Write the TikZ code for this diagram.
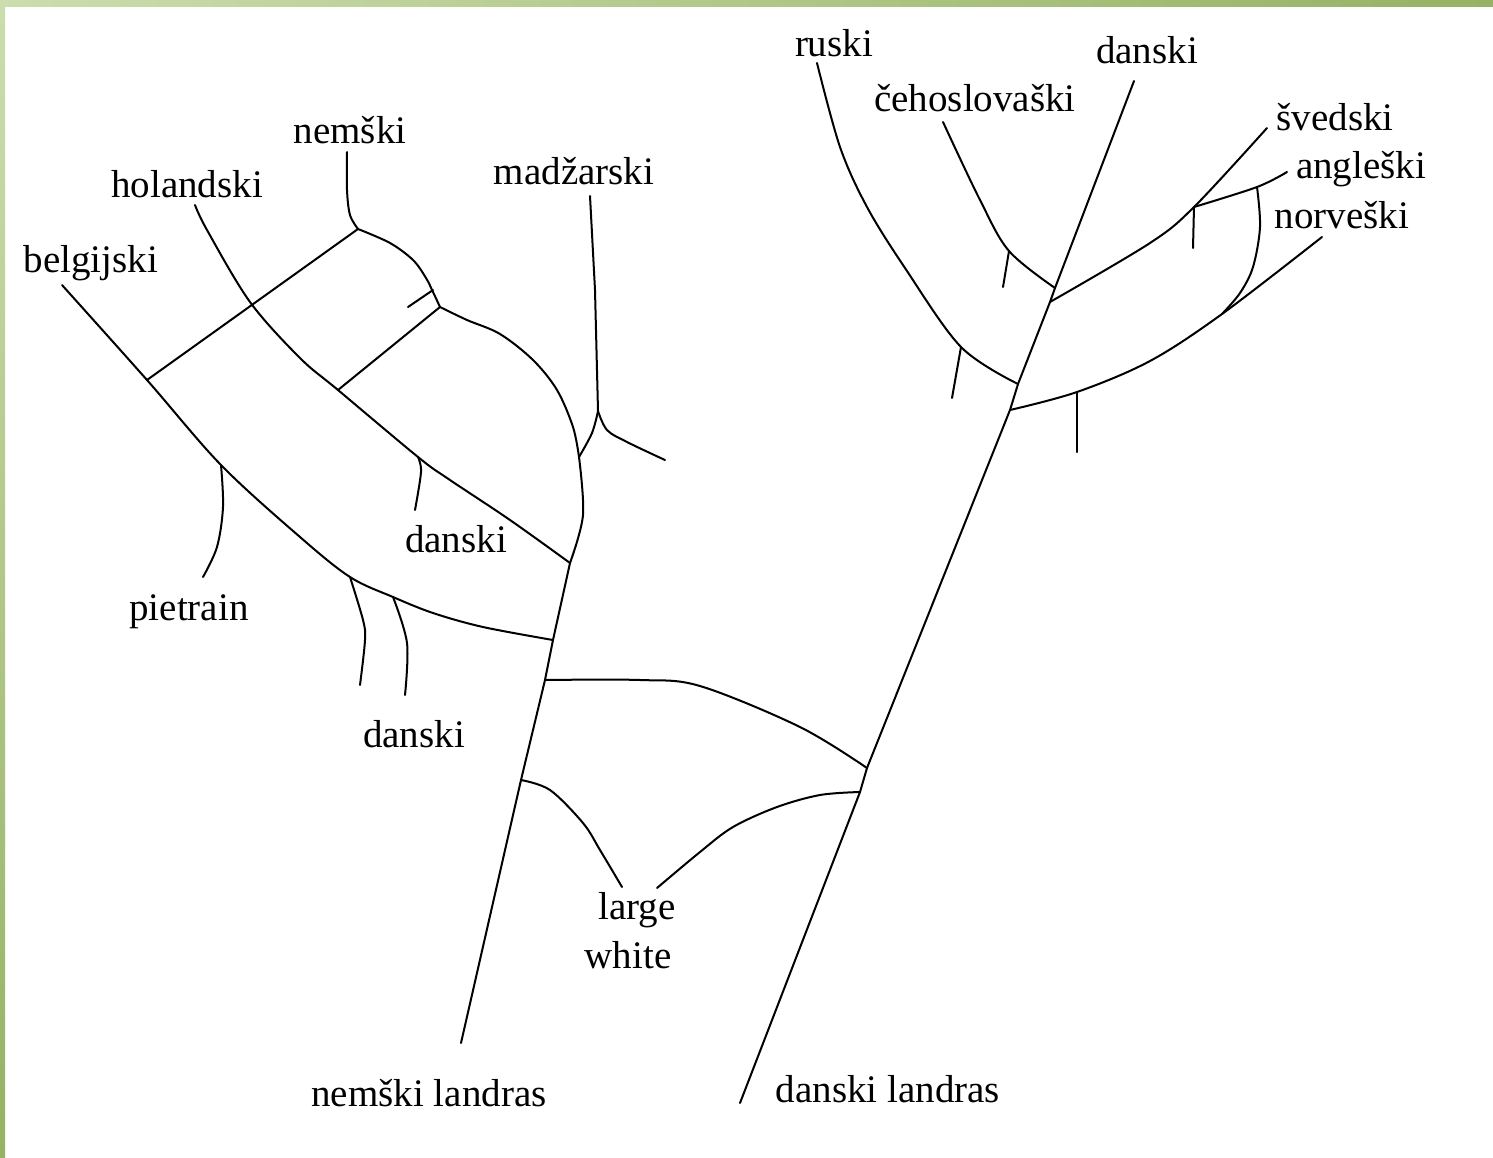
\documentclass[tikz,border=0pt]{standalone}
\usepackage{fontspec}
\newfontfamily\lblfont{Liberation Serif}
\begin{document}
\begin{tikzpicture}[x=1pt,y=-1pt,
  tree/.style={line width=2pt, black, line join=round, line cap=round},
  lbl/.style={font=\lblfont\fontsize{39}{41}\selectfont, inner sep=0pt, anchor=base},
  sm/.style={smooth, tension=0.55}]
\useasboundingbox (0,0) rectangle (1493,1157);
\fill[white] (0,0) rectangle (1493,1157);
\definecolor{gLight}{RGB}{204,221,174}
\definecolor{gDark}{RGB}{150,178,100}
\shade[left color=gLight, right color=gDark] (0,0) rectangle (1493,6);
\shade[top color=gLight, bottom color=gDark] (0,0) rectangle (5,1157);

% ---------- labels ----------
\node[lbl] (ruski)   at (834,56)  {ruski};
\node[lbl] (danR)    at (1147,63) {danski};
\node[lbl] (ceh)     at (975,111) {čehoslovaški};
\node[lbl] (sved)    at (1335,130) {švedski};
\node[lbl] (angl)    at (1361,178) {angleški};
\node[lbl] (norv)    at (1342,228) {norveški};
\node[lbl] (nem)     at (350,143) {nemški};
\node[lbl] (hol)     at (187,197) {holandski};
\node[lbl] (mad)     at (574,184) {madžarski};
\node[lbl] (bel)     at (91,272)  {belgijski};
\node[lbl] (danM)    at (456,552) {danski};
\node[lbl] (piet)    at (189,620) {pietrain};
\node[lbl] (danL)    at (414,747) {danski};
\node[lbl] (large)   at (637,919) {large};
\node[lbl] (white)   at (628,968) {white};
\node[lbl] (nemland) at (429,1106) {nemški landras};
\node[lbl] (danland) at (888,1102) {danski landras};

% ---------- junctions, left tree ----------
\coordinate (Lbot) at (461,1043);
\coordinate (Jlw)  at (521,780);
\coordinate (Jlm)  at (545,680);
\coordinate (Jbel) at (553,640);
\coordinate (Jhol) at (570,563);
\coordinate (Jmad) at (579,457);
\coordinate (Jm2)  at (598,411);
\coordinate (Jn2)  at (440,307);
\coordinate (Jn1)  at (358,229);
\coordinate (Jh1)  at (338,390);
\coordinate (Jh2)  at (418,457);
\coordinate (Jb1)  at (147,380);
\coordinate (Jb2)  at (221,465);
\coordinate (Jb3)  at (350,577);
\coordinate (Jb4)  at (393,597);
\coordinate (Jtk)  at (433,290);
% ---------- junctions, right tree ----------
\coordinate (Rbot) at (740,1103);
\coordinate (Jr2)  at (860,792);
\coordinate (Jr1)  at (867,768);
\coordinate (Jno)  at (1010,410);
\coordinate (Jru)  at (1018,384);
\coordinate (Jsv)  at (1050,302);
\coordinate (Jce)  at (1055,288);
\coordinate (Rtop) at (1134,81);
\coordinate (Jrt)  at (961,347);
\coordinate (Jct)  at (1009,251);
\coordinate (Jan)  at (1194,207);
\coordinate (Jac)  at (1257,187);
\coordinate (Jnt)  at (1077,392);
\coordinate (Jnc)  at (1222,314);

% ---------- left tree ----------
\draw[tree] (Lbot) -- (Jlw) -- (Jlm) -- (Jbel) -- (Jhol);
\draw[tree] plot[sm] coordinates {(Jhol) (583,515) (Jmad)};
\draw[tree] plot[sm] coordinates {(Jmad) (573,427) (557,390) (533,360) (500,334) (467,320) (Jn2)};
\draw[tree] plot[sm] coordinates {(Jn2) (433,292) (426,278) (413,260) (390,243) (Jn1)};
\draw[tree] plot[sm] coordinates {(Jn1) (350,215) (347,190) (347,152)};
\draw[tree] plot[sm] coordinates {(Jmad) (592,433) (Jm2)};
\draw[tree] (Jm2) -- (595,290) -- (590,196);
\draw[tree] plot[sm] coordinates {(Jm2) (607,430) (627,442) (665,460)};
% holandski
\draw[tree] plot[sm] coordinates {(195,205) (207,230) (250,302) (300,358) (Jh1) (Jh2) (447,478) (510,520) (Jhol)};
% cross links
\draw[tree] (Jn2) -- (Jh1);
\draw[tree] (Jn1) -- (Jb1);
\draw[tree] (Jtk) -- (408,307);
% belgijski
\draw[tree] plot[sm] coordinates {(62,285) (Jb1) (Jb2) (300,537) (Jb3) (Jb4) (433,613) (483,627) (Jbel)};
% ticks
\draw[tree] plot[sm] coordinates {(Jb2) (223,507) (217,547) (203,577)};
\draw[tree] plot[sm] coordinates {(Jb3) (363,620) (365,640) (360,685)};
\draw[tree] plot[sm] coordinates {(Jb4) (407,643) (405,695)};
\draw[tree] plot[sm] coordinates {(Jh2) (421,472) (415,510)};
% large white links
\draw[tree] plot[sm] coordinates {(Jlm) (640,680) (700,686) (800,727) (Jr1)};
\draw[tree] plot[sm] coordinates {(Jlw) (550,790) (583,823) (600,850) (622,887)};
\draw[tree] plot[sm] coordinates {(Jr2) (820,795) (777,807) (733,827) (700,852) (657,888)};

% ---------- right tree ----------
\draw[tree] (Rbot) -- (Jr2) -- (Jr1) -- (Jno) -- (Jru) -- (Jsv) -- (Jce) -- (Rtop);
\draw[tree] plot[sm] coordinates {(817,63) (840,147) (867,207) (905,268) (Jrt) (Jru)};
\draw[tree] (Jrt) -- (952,398);
\draw[tree] plot[sm] coordinates {(943,122) (980,200) (Jct) (Jce)};
\draw[tree] (Jct) -- (1003,287);
\draw[tree] plot[sm] coordinates {(Jsv) (1150,243) (Jan) (1267,128)};
\draw[tree] plot[sm] coordinates {(Jan) (Jac) (1287,172)};
\draw[tree] (Jan) -- (1193,248);
\draw[tree] plot[sm] coordinates {(Jac) (1260,227) (1253,267) (1240,293) (Jnc)};
\draw[tree] plot[sm] coordinates {(Jno) (Jnt) (1150,361) (Jnc) (1322,237)};
\draw[tree] (Jnt) -- (1077,452);
\end{tikzpicture}
\end{document}
